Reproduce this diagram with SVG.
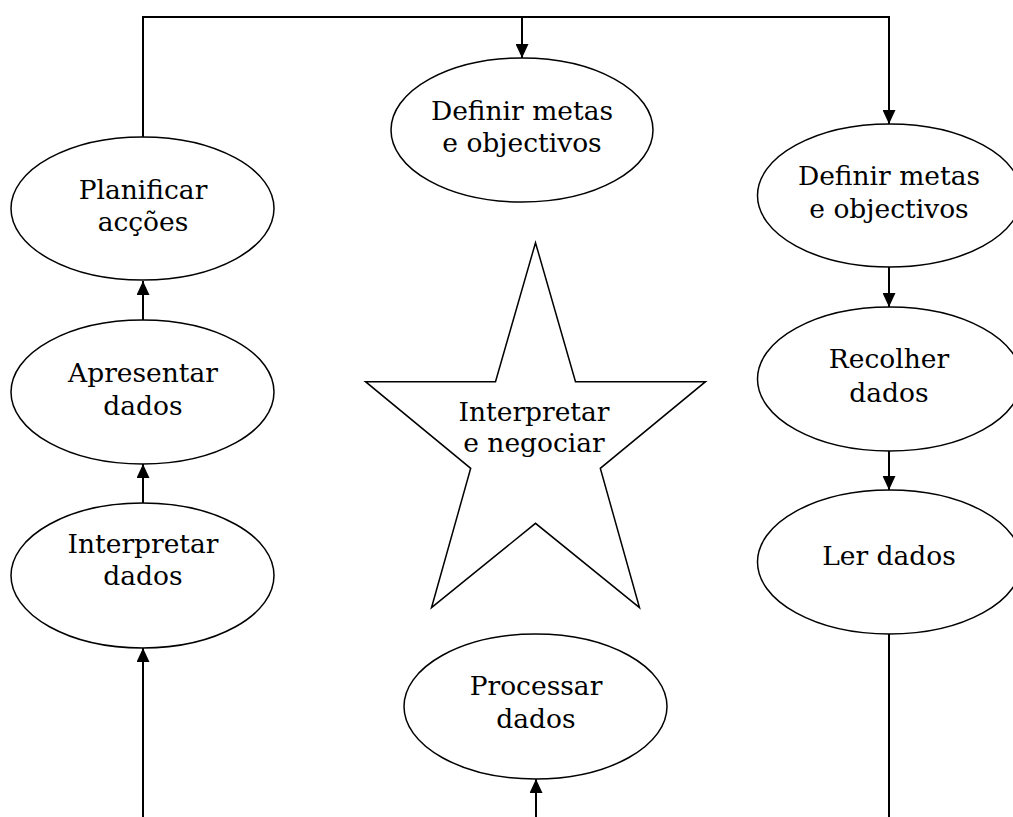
<svg xmlns="http://www.w3.org/2000/svg" width="1013" height="817" viewBox="0 0 1013 817">
<style>
.n{fill:#fff;stroke:#000;stroke-width:1.5}
.t{font-family:"DejaVu Serif","Liberation Serif",serif;font-size:26.5px;fill:#000;text-anchor:middle}
.c{fill:none;stroke:#000;stroke-width:2}
</style>
<defs>
<marker id="ah" markerUnits="userSpaceOnUse" markerWidth="14" markerHeight="13" viewBox="0 0 14 13" refX="14" refY="6.5" orient="auto">
<path d="M0,0 L14,6.5 L0,13 z" fill="#000"/>
</marker>
</defs>
<rect width="1013" height="817" fill="#fff"/>
<g id="connectors">
<path class="c" d="M143,137 V17 H889 V124" marker-end="url(#ah)"/>
<path class="c" d="M522,17 V58" marker-end="url(#ah)"/>
<path class="c" d="M143,320 V281" marker-end="url(#ah)"/>
<path class="c" d="M143,503 V464" marker-end="url(#ah)"/>
<path class="c" d="M143,817 V648" marker-end="url(#ah)"/>
<path class="c" d="M536,817 V779" marker-end="url(#ah)"/>
<path class="c" d="M889,267 V307" marker-end="url(#ah)"/>
<path class="c" d="M889,451 V490" marker-end="url(#ah)"/>
<path class="c" d="M889,634 V817"/>
</g>
<g id="definir-centro">
<ellipse class="n" cx="522" cy="130" rx="131" ry="72"/>
<text class="t" x="522" y="120">Definir metas</text>
<text class="t" x="522" y="152">e objectivos</text>
</g>
<g id="planificar">
<ellipse class="n" cx="142.5" cy="208.5" rx="131.5" ry="71.5"/>
<text class="t" x="143" y="199">Planificar</text>
<text class="t" x="143" y="231">acções</text>
</g>
<g id="apresentar">
<ellipse class="n" cx="142.5" cy="392" rx="131.5" ry="72"/>
<text class="t" x="143" y="382">Apresentar</text>
<text class="t" x="143" y="415">dados</text>
</g>
<g id="interpretar-dados">
<ellipse class="n" cx="142.5" cy="575.5" rx="131.5" ry="72.5"/>
<text class="t" x="143" y="553">Interpretar</text>
<text class="t" x="143" y="585">dados</text>
</g>
<g id="definir-direita">
<ellipse class="n" cx="889.5" cy="195.5" rx="132" ry="71.5"/>
<text class="t" x="889" y="185">Definir metas</text>
<text class="t" x="889" y="218">e objectivos</text>
</g>
<g id="recolher">
<ellipse class="n" cx="889.5" cy="379" rx="132" ry="72"/>
<text class="t" x="889" y="368">Recolher</text>
<text class="t" x="889" y="402">dados</text>
</g>
<g id="ler">
<ellipse class="n" cx="889.5" cy="562" rx="132" ry="72"/>
<text class="t" x="889" y="565">Ler dados</text>
</g>
<g id="interpretar-negociar">
<polygon class="n" points="535.5,242.7 575.5,381.7 705.5,381.7 600.3,468.3 639.5,607.7 535.5,523.3 431.5,607.7 470.7,468.3 365.5,381.7 495.5,381.7"/>
<text class="t" x="534" y="421">Interpretar</text>
<text class="t" x="534" y="452">e negociar</text>
</g>
<g id="processar">
<ellipse class="n" cx="535.5" cy="706.5" rx="131.5" ry="72.5"/>
<text class="t" x="536" y="695">Processar</text>
<text class="t" x="536" y="728">dados</text>
</g>
</svg>
